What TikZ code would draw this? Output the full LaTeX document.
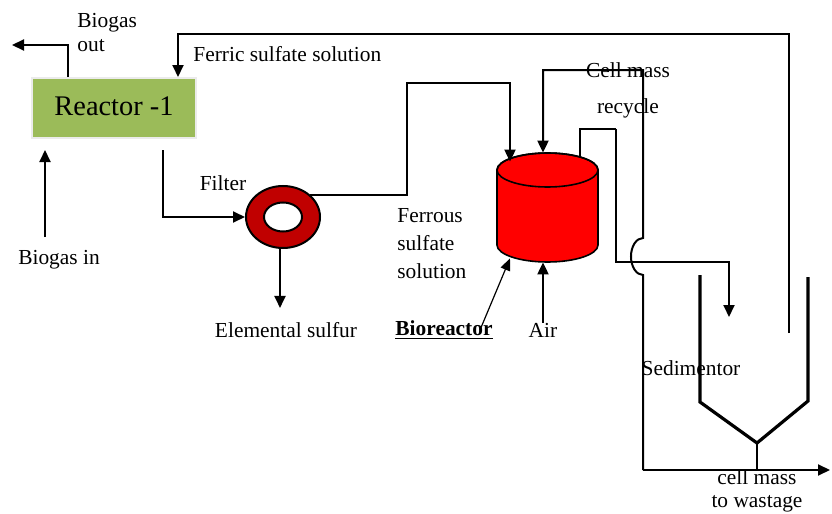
\documentclass[tikz,border=0pt]{standalone}
\usepackage{fontspec}
\setmainfont{Liberation Serif}
\usetikzlibrary{arrows.meta,shapes.geometric,positioning}
\definecolor{reactorgreen}{RGB}{155,187,89}
\definecolor{filterred}{RGB}{192,0,0}
\tikzset{
  pipe/.style={line width=1pt,-{Triangle[length=6pt,width=5.5pt]}},
  plain/.style={line width=1pt},
  pointer/.style={line width=.6pt,-{Triangle[length=6pt,width=5pt]}},
  lbl/.style={font=\fontsize{10.7}{12}\selectfont,inner sep=0pt},
}
\begin{document}
\begin{tikzpicture}[x=.5pt,y=-.5pt]
\useasboundingbox (0,0) rectangle (832,514);
\node[fill=reactorgreen,draw=black!8,line width=1pt,minimum width=82pt,minimum height=30pt,inner sep=0pt,font=\fontsize{14.2}{16}\selectfont] (reactor) at (114,108) {\raisebox{2pt}{Reactor -1}};
\node[ellipse,draw,line width=1pt,fill=filterred,minimum width=37pt,minimum height=31pt] (filter) at (283,217) {};
\node[ellipse,draw,line width=1pt,fill=white,minimum width=19pt,minimum height=14.5pt,inner sep=0pt] (filterhole) at (283,217) {};
\node[minimum width=50.5pt,minimum height=54.5pt,inner sep=0pt] (bioreactor) at (547.5,207.5) {};
\draw[line width=.8pt,fill=red] (497,170) -- (497,245) arc[start angle=180,end angle=0,x radius=50.5,y radius=17] -- (598,170) arc[start angle=0,end angle=-180,x radius=50.5,y radius=17] -- cycle;
\draw[line width=.8pt] (547.5,170) ellipse[x radius=50.5,y radius=17];

\node[lbl,align=left,anchor=west] (gasoutlbl) at (77,33) {Biogas\\out};
\node[lbl,anchor=west] (ferriclbl) at (193,54) {Ferric sulfate solution};
\node[lbl] (gasinlbl) at (59,260) {Biogas in};
\node[lbl] (filterlbl) at (223,183) {Filter};
\node[lbl] (sulfurlbl) at (286,330) {Elemental sulfur};
\node[lbl,align=left,anchor=west,font=\fontsize{10.7}{14}\selectfont] (ferrouslbl) at (397,244) {Ferrous\\sulfate\\solution};
\node[lbl] (biolbl) at (444,330) {\underline{\textbf{Bioreactor}}};
\node[lbl] (airlbl) at (543,330) {Air};
\node[lbl,align=center,font=\fontsize{10.7}{18}\selectfont] (recyclelbl) at (628,90) {Cell mass\\recycle};
\node[lbl] (sedlbl) at (691,368) {Sedimentor};
\node[lbl,align=center,font=\fontsize{10.7}{11.5}\selectfont] (wastelbl) at (757,491) {cell mass\\to wastage};

\coordinate (gasout) at (12,45);
\coordinate (gasin) at (45,237);
\coordinate (ferrictop) at (178,34);
\coordinate (sedret) at (789,333);
\coordinate (ferrousup) at (407,83);
\coordinate (outup) at (616,129);
\coordinate (outdown) at (729,262);
\coordinate (sedin) at (729,317);
\coordinate (sedbot) at (757,443);
\coordinate (wastej) at (643,470);
\coordinate (waste) at (830,470);

\draw[line width=1.6pt] (700,275) -- (700,402) -- (sedbot) -- (808,401) -- (808,277);

\draw[pipe] ([xshift=-23pt]reactor.north) |- (gasout);
\draw[pipe] (gasin) -- ([xshift=-34.5pt,yshift=-5.5pt]reactor.south);
\draw[pipe] (sedret) |- (ferrictop) -- (ferrictop |- reactor.north);
\draw[pipe] ([xshift=24.5pt,yshift=-5.5pt]reactor.south) |- (filter.west);
\draw[pipe,shorten >=7pt] ([xshift=-1.5pt]filter.south) -- ([xshift=-1.5pt]filter.south |- sulfurlbl.north);
\draw[pipe] (filter.39) -| (ferrousup) -| ([xshift=-18.75pt,yshift=-4.5pt]bioreactor.north);
\draw[plain] ([xshift=16.25pt,yshift=-2pt]bioreactor.north) |- (outup);
\draw[pipe] (outup) |- (outdown) -- (sedin);
\draw[pipe] (airlbl.north) -- (airlbl.north |- bioreactor.south);
\draw[pointer] (480,330) -- ([xshift=-18.75pt,yshift=2pt]bioreactor.south);
\draw[plain] (sedbot) -- (sedbot |- wastej);
\draw[pipe] (wastej) -- (waste);
\draw[pipe] (wastej) -- (643,275) arc[start angle=90,end angle=270,x radius=12,y radius=18.5] -- (643,70) -| ([xshift=-2.25pt]bioreactor.north);
\end{tikzpicture}
\end{document}
